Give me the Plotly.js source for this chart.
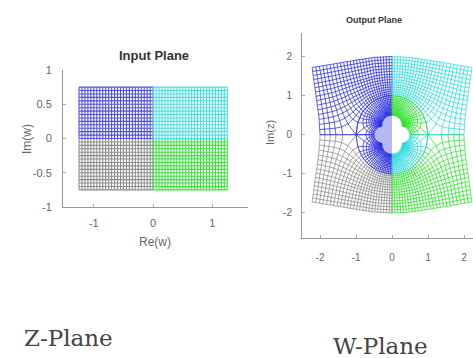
<!DOCTYPE html>
<html>
<head>
<meta charset="utf-8">
<script src="https://cdn.plot.ly/plotly-3.0.1.min.js"></script>
<style>
html,body{margin:0;padding:0;overflow:hidden;background:#fff;}
#chart{width:485px;height:358px;}
</style>
</head>
<body>
<div id="chart"></div>
<script>
// Grid lines of the input rectangle (step 0.05)
const reGrid = [-1.25,-1.2,-1.15,-1.1,-1.05,-1,-0.95,-0.9,-0.85,-0.8,-0.75,-0.7,-0.65,-0.6,-0.55,-0.5,-0.45,-0.4,-0.35,-0.3,-0.25,-0.2,-0.15,-0.1,-0.05,0,
                0.05,0.1,0.15,0.2,0.25,0.3,0.35,0.4,0.45,0.5,0.55,0.6,0.65,0.7,0.75,0.8,0.85,0.9,0.95,1,1.05,1.1,1.15,1.2,1.25];
const imGrid = [-0.75,-0.7,-0.65,-0.6,-0.55,-0.5,-0.45,-0.4,-0.35,-0.3,-0.25,-0.2,-0.15,-0.1,-0.05,0,
                0.05,0.1,0.15,0.2,0.25,0.3,0.35,0.4,0.45,0.5,0.55,0.6,0.65,0.7,0.75];
// Quadrants: name, Re side, Im side
const quadNames = ['blue','cyan','gray','green'];
const quadReSide = [-1, 1, -1, 1];
const quadImSide = [1, 1, -1, -1];
// Colour of the inner-branch image of each quadrant (as seen in the picture)
const innerColorOf = ['blue','cyan','blue','green'];

// Tick labels
const inXTicks = [-1,0,1];
const inYTicks = [-1,-0.5,0,0.5,1];
const outXTicks = [-2,-1,0,1,2];
const outYTicks = [-2,-1,0,1,2];

const colors = {blue:'#2020e0', cyan:'#20d8d8', gray:'#858585', green:'#20e020', hole:'#b8b8f0'};
const inColors = {blue:'#5050e0', cyan:'#50dede', gray:'#8c8c8c', green:'#40e040'};

function csqrt(a,b){
  const r = Math.hypot(a,b);
  const re = Math.sqrt(Math.max(0,(r+a)/2));
  const im = (b<0?-1:1)*Math.sqrt(Math.max(0,(r-a)/2));
  return [re,im];
}
// outer branch of inverse Joukowski, upper half convention
function fUpper(x,y){
  const s1 = csqrt(x-1,y), s2 = csqrt(x+1,y);
  const pr = s1[0]*s2[0]-s1[1]*s2[1], pi = s1[0]*s2[1]+s1[1]*s2[0];
  return [x+pr, y+pi];
}
function outerMap(x,y,lower){
  if(lower){ const z = fUpper(x,-y); return [z[0],-z[1]]; }
  return fUpper(x,y);
}
function innerMap(x,y,lower){
  const z = outerMap(x,y,lower); const m = z[0]*z[0]+z[1]*z[1];
  return [z[0]/m, -z[1]/m];
}

const traces = [];
// light fill of the left half of the central hole, bounded by the mapped rectangle edges
(function(){
  const xs=[], ys=[];
  const negRe = reGrid.filter(v=>v<=0);
  const imMax = Math.max(...imGrid), imMin = Math.min(...imGrid), reMin = Math.min(...reGrid);
  negRe.slice().reverse().forEach(a=>{ const p=innerMap(a,imMax,false); xs.push(p[0]); ys.push(p[1]); });
  imGrid.filter(v=>v>=0).slice().reverse().forEach(b=>{ const p=innerMap(reMin,b,false); xs.push(p[0]); ys.push(p[1]); });
  imGrid.filter(v=>v<=0).slice().reverse().forEach(b=>{ const p=innerMap(reMin,b,true); xs.push(p[0]); ys.push(p[1]); });
  negRe.forEach(a=>{ const p=innerMap(a,imMin,true); xs.push(p[0]); ys.push(p[1]); });
  traces.push({x:xs,y:ys,xaxis:'x2',yaxis:'y2',mode:'lines',type:'scatter',fill:'toself',
    fillcolor:colors.hole,line:{width:0,color:colors.hole},hoverinfo:'skip',showlegend:false});
})();

function quadLines(q, mapFn){
  const res = reGrid.filter(v => v*quadReSide[q] >= -1e-9);
  const ims = imGrid.filter(v => v*quadImSide[q] >= -1e-9);
  const lower = quadImSide[q] < 0;
  const xs=[], ys=[];
  ims.forEach(b => { res.forEach(a => { const p = mapFn(a,b,lower); xs.push(p[0]); ys.push(p[1]); }); xs.push(null); ys.push(null); });
  res.forEach(a => { ims.forEach(b => { const p = mapFn(a,b,lower); xs.push(p[0]); ys.push(p[1]); }); xs.push(null); ys.push(null); });
  return [xs,ys];
}
const ident = (a,b)=>[a,b];
const order = [2,3,0,1];
order.forEach(q => {
  const [xs,ys] = quadLines(q, ident);
  traces.push({x:xs,y:ys,xaxis:'x',yaxis:'y',mode:'lines',type:'scatter',
    line:{color:inColors[quadNames[q]],width:1.1},hoverinfo:'skip',showlegend:false});
});
order.forEach(q => {
  const [xs,ys] = quadLines(q, outerMap);
  traces.push({x:xs,y:ys,xaxis:'x2',yaxis:'y2',mode:'lines',type:'scatter',
    line:{color:colors[quadNames[q]],width:0.7},hoverinfo:'skip',showlegend:false});
});
order.forEach(q => {
  const [xs,ys] = quadLines(q, innerMap);
  traces.push({x:xs,y:ys,xaxis:'x2',yaxis:'y2',mode:'lines',type:'scatter',
    line:{color:colors[innerColorOf[q]],width:0.7},hoverinfo:'skip',showlegend:false});
});

const W=485, H=358;
const sans = 'Liberation Sans, Arial, sans-serif';
const tickFont = {family:sans, size:10, color:'#666'};
const lab = v => String(v);
function axisBase(){
  return {showgrid:false, zeroline:false, showline:true, linecolor:'#999', linewidth:1,
          ticks:'inside', ticklen:3, tickcolor:'#aaa', tickfont:tickFont, fixedrange:true, tickmode:'array'};
}
const layout = {
  width:W, height:H, margin:{l:0,r:0,t:0,b:0}, paper_bgcolor:'#fff', plot_bgcolor:'#fff',
  xaxis:Object.assign(axisBase(), {domain:[63/W,248/W], range:[-1.52,1.6], anchor:'y',
     tickvals:inXTicks, ticktext:inXTicks.map(lab), ticklabelstandoff:6, tickfont:Object.assign({},tickFont,{size:11})}),
  yaxis:Object.assign(axisBase(), {domain:[1-207/H,1-70/H], range:[-1,1], anchor:'x',
     tickvals:inYTicks, ticktext:inYTicks.map(lab), ticklabelstandoff:8, tickfont:Object.assign({},tickFont,{size:11})}),
  xaxis2:Object.assign(axisBase(), {domain:[302/W,482/W], range:[-2.5,2.5], anchor:'y2',
     tickvals:outXTicks, ticktext:outXTicks.map(lab), ticklabelstandoff:10}),
  yaxis2:Object.assign(axisBase(), {domain:[1-238/H,1-33/H], range:[-2.64,2.6], anchor:'x2',
     tickvals:outYTicks, ticktext:outYTicks.map(lab), ticklabelstandoff:7}),
  annotations:[
    {text:'<b>Input Plane</b>', xref:'paper', yref:'paper', x:154/W, y:1-55/H, showarrow:false,
     font:{family:sans, size:13, color:'#333'}, xanchor:'center', yanchor:'middle'},
    {text:'<b>Output Plane</b>', xref:'paper', yref:'paper', x:374/W, y:1-20/H, showarrow:false,
     font:{family:sans, size:9, color:'#333'}, xanchor:'center', yanchor:'middle'},
    {text:'Re(w)', xref:'paper', yref:'paper', x:155/W, y:1-242/H, showarrow:false,
     font:{family:sans, size:12, color:'#666'}, xanchor:'center', yanchor:'middle'},
    {text:'Im(w)', xref:'paper', yref:'paper', x:27/W, y:1-139/H, showarrow:false, textangle:-90,
     font:{family:sans, size:12, color:'#666'}, xanchor:'center', yanchor:'middle'},
    {text:'Im(z)', xref:'paper', yref:'paper', x:270/W, y:1-133/H, showarrow:false, textangle:-90,
     font:{family:sans, size:11, color:'#666'}, xanchor:'center', yanchor:'middle'},
    {text:'Z-Plane', xref:'paper', yref:'paper', x:68/W, y:1-338/H, showarrow:false,
     font:{family:'DejaVu Serif, serif', size:23, color:'#444'}, xanchor:'center', yanchor:'middle'},
    {text:'W-Plane', xref:'paper', yref:'paper', x:380/W, y:1-346/H, showarrow:false,
     font:{family:'DejaVu Serif, serif', size:23, color:'#444'}, xanchor:'center', yanchor:'middle'}
  ]
};
Plotly.newPlot('chart', traces, layout, {displayModeBar:false, staticPlot:true});
</script>
</body>
</html>
